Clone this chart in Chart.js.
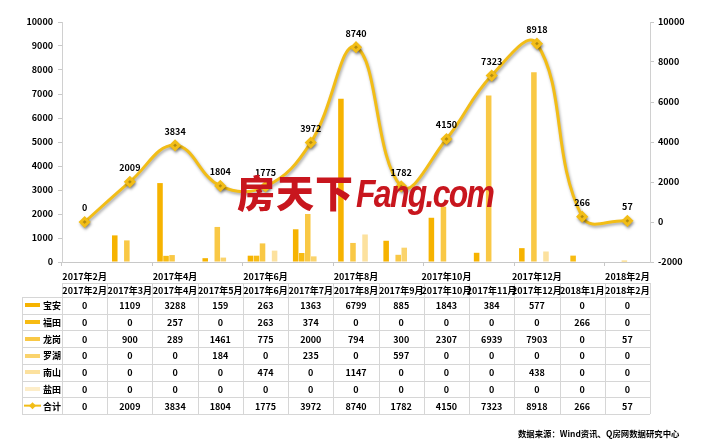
<!DOCTYPE html>
<html><head><meta charset="utf-8">
<script src="https://cdn.jsdelivr.net/npm/chart.js@4/dist/chart.umd.min.js"></script>
<style>
html,body{margin:0;padding:0;background:#fff;}
#wrap{position:relative;width:722px;height:444px;overflow:hidden;}
#c{position:absolute;left:0;top:0;}
#wm{position:absolute;left:237px;top:172px;color:#c8161e;white-space:nowrap;pointer-events:none;line-height:1;}
#wm .cn{font-family:"Noto Sans CJK SC";font-weight:900;font-size:38px;letter-spacing:1px;}
#wm .en{font-family:"Liberation Sans";font-weight:bold;font-style:italic;font-size:38px;letter-spacing:-2px;display:inline-block;transform:scaleX(0.84);transform-origin:left center;margin-left:2px;}
</style></head><body>
<div id="wrap"><canvas id="c" width="722" height="444"></canvas>
<div id="wm"><span class="cn">房天下</span><span class="en">Fang.com</span></div>
</div>
<script>
const months = ['2017年2月','2017年3月','2017年4月','2017年5月','2017年6月','2017年7月','2017年8月','2017年9月','2017年10月','2017年11月','2017年12月','2018年1月','2018年2月'];
const baoan   = [0,1109,3288,159,263,1363,6799,885,1843,384,577,0,0];
const futian  = [0,0,257,0,263,374,0,0,0,0,0,266,0];
const longgang= [0,900,289,1461,775,2000,794,300,2307,6939,7903,0,57];
const luohu   = [0,0,0,184,0,235,0,597,0,0,0,0,0];
const nanshan = [0,0,0,0,474,0,1147,0,0,0,438,0,0];
const yantian = [0,0,0,0,0,0,0,0,0,0,0,0,0];
const totals  = [0,2009,3834,1804,1775,3972,8740,1782,4150,7323,8918,266,57];
const seriesNames = ['宝安','福田','龙岗','罗湖','南山','盐田'];
const totalName = '合计';
const sourceText = '数据来源：Wind资讯、Q房网数据研究中心';

const seriesData = [baoan,futian,longgang,luohu,nanshan,yantian];
const barColors = ['#F6B300','#F7BB12','#F9C845','#FAD36C','#FCE19E','#FDEDC8'];
const lineColor = '#F2BD17';
const FONT = '"Noto Sans CJK SC"';

const datasets = [{
  type:'line', label: totalName, data: totals, yAxisID:'y1', order:0,
  borderColor: lineColor, borderWidth:3, tension:0.42,
  pointStyle:'rectRot', pointRadius:4, pointBackgroundColor:lineColor, pointBorderColor:lineColor
}];
seriesNames.forEach((n,i)=>datasets.push({
  type:'bar', label:n, data:seriesData[i], yAxisID:'y', order:1,
  backgroundColor:barColors[i], borderWidth:0, categoryPercentage:0.8, barPercentage:0.92
}));

const tickFont = {family:FONT, size:9, weight:'bold'};

const plug = {
  id:'custom',
  beforeDatasetDraw(chart,args){
    if(args.index===0){const c=chart.ctx;c.save();c.shadowColor='rgba(0,0,0,0.35)';c.shadowBlur=3;c.shadowOffsetX=1;c.shadowOffsetY=2;}
  },
  afterDatasetDraw(chart,args){ if(args.index===0) chart.ctx.restore(); },
  afterDatasetsDraw(chart){
    const c=chart.ctx, meta=chart.getDatasetMeta(0);
    c.save(); c.font='bold 9px '+FONT; c.fillStyle='#000'; c.textAlign='center'; c.textBaseline='middle';
    meta.data.forEach((p,i)=>c.fillText(String(totals[i]), p.x, p.y-14));
    c.restore();
  },
  afterDraw(chart){
    const c=chart.ctx, ca=chart.chartArea, n=months.length;
    const L=ca.left, R=ca.right, cw=(R-L)/n;
    const headTop=283, headBot=297, rowH=(414-297)/7, legL=22, bottom=headBot+7*rowH;
    const px=v=>Math.round(v)+0.5;
    c.save();
    c.strokeStyle='#d6d6d6'; c.lineWidth=1;
    c.beginPath();
    c.moveTo(L,px(headTop)); c.lineTo(R,px(headTop));
    for(let r=0;r<=7;r++){const y=px(headBot+r*rowH); c.moveTo(legL,y); c.lineTo(R,y);}
    for(let i=0;i<=n;i++){const x=px(L+i*cw); c.moveTo(x,headTop); c.lineTo(x,bottom);}
    c.moveTo(px(legL),headBot); c.lineTo(px(legL),bottom);
    c.stroke();
    c.font='bold 9px '+FONT; c.fillStyle='#000'; c.textAlign='center'; c.textBaseline='middle';
    for(let i=0;i<n;i++){
      const x=L+(i+0.5)*cw;
      c.fillText(months[i], x, (headTop+headBot)/2+0.5);
      seriesData.forEach((arr,r)=>c.fillText(String(arr[i]), x, headBot+(r+0.5)*rowH+0.5));
      c.fillText(String(totals[i]), x, headBot+6.5*rowH+0.5);
    }
    c.textAlign='left';
    seriesNames.forEach((nm,r)=>{
      const yc=headBot+(r+0.5)*rowH;
      c.fillStyle=barColors[r]; c.fillRect(25, Math.round(yc)-2, 15, 4);
      c.fillStyle='#000'; c.fillText(nm, 43, yc+0.5);
    });
    const yc=headBot+6.5*rowH;
    c.strokeStyle=lineColor; c.lineWidth=2; c.beginPath(); c.moveTo(24,yc); c.lineTo(41,yc); c.stroke();
    c.fillStyle=lineColor; c.beginPath(); c.moveTo(32.5,yc-3.5); c.lineTo(36,yc); c.lineTo(32.5,yc+3.5); c.lineTo(29,yc); c.closePath(); c.fill();
    c.fillStyle='#000'; c.fillText(totalName, 43, yc+0.5);
    c.font='bold 8.4px '+FONT;
    c.fillText(sourceText, 518, 434);
    c.restore();
  }
};

new Chart(document.getElementById('c'), {
  data:{labels:months, datasets},
  options:{
    responsive:false, animation:false, devicePixelRatio:1,
    layout:{padding:{top:22,bottom:160,left:0,right:0}},
    plugins:{legend:{display:false}, tooltip:{enabled:false}},
    scales:{
      x:{offset:true,
        grid:{drawOnChartArea:false, offset:true, tickLength:4, color:(ctx)=> (ctx.index%2===0 ? '#c8c8c8' : 'rgba(0,0,0,0)')},
        border:{color:'#c8c8c8'},
        ticks:{autoSkip:false, maxRotation:0, minRotation:0, padding:5, color:'#000', font:tickFont,
          callback:(v,i)=> i%2===0 ? months[i] : ''},
        afterFit:(s)=>{s.height=22;}
      },
      y:{position:'left', min:0, max:10000,
        grid:{drawOnChartArea:false, tickLength:4, color:'#c8c8c8'}, border:{color:'#d0d0d0'},
        ticks:{stepSize:1000, padding:5, color:'#000', font:tickFont, callback:(v)=>String(v)},
        afterFit:(s)=>{s.width=62;}
      },
      y1:{position:'right', min:-2000, max:10000,
        grid:{drawOnChartArea:false, tickLength:4, color:'#c8c8c8'}, border:{color:'#d0d0d0'},
        ticks:{stepSize:2000, padding:4, color:'#000', font:tickFont, callback:(v)=>String(v)},
        afterFit:(s)=>{s.width=72;}
      }
    }
  },
  plugins:[plug]
});
</script>
</body></html>
